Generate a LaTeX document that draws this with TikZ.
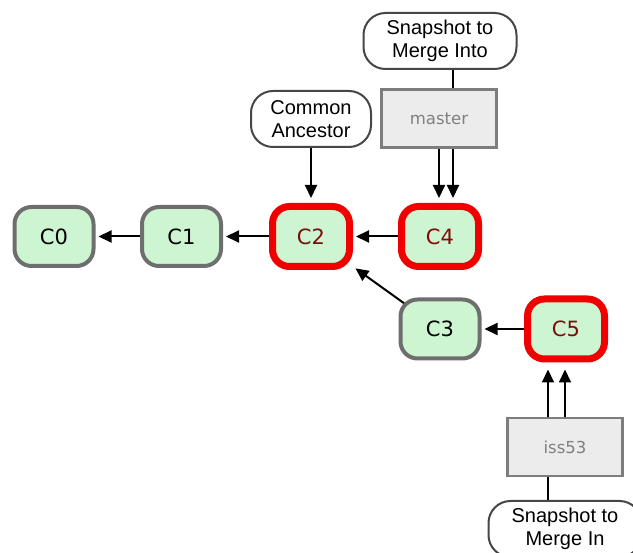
\documentclass[tikz,border=0pt]{standalone}
\usepackage{fontspec}
\setmainfont{Liberation Sans}
\newfontfamily\commitfont{DejaVu Sans}
\usetikzlibrary{arrows.meta,backgrounds}
\definecolor{cgreen}{RGB}{205,245,210}
\definecolor{cgrey}{RGB}{110,110,110}
\definecolor{cred}{RGB}{240,0,0}
\definecolor{cdred}{RGB}{130,10,10}
\definecolor{bgrey}{RGB}{236,236,236}
\definecolor{bline}{RGB}{125,125,125}
\definecolor{btext}{RGB}{128,128,128}
\definecolor{cline}{RGB}{70,70,70}
\begin{document}
\begin{tikzpicture}[x=1pt,y=-1pt,
 commit/.style={draw=cgrey,line width=4pt,fill=cgreen,rounded corners=17pt,minimum width=79pt,minimum height=59pt,inner sep=0pt,font=\commitfont\fontsize{21}{24}\selectfont},
 hot/.style={draw=cred,line width=7pt,text=cdred,minimum width=77pt,minimum height=60pt},
 branch/.style={draw=bline,line width=2.5pt,fill=bgrey,minimum width=115pt,minimum height=58pt,inner sep=0pt,font=\commitfont\fontsize{16.5}{19}\selectfont,text=btext},
 callout/.style={draw=cline,line width=2pt,fill=white,rounded corners=22pt,minimum height=56pt,align=center,font=\fontsize{20}{22.5}\selectfont,inner sep=0pt},
 arr/.style={line width=2pt,-{Triangle[length=13pt,width=12pt]}},
 link/.style={line width=2pt,draw=black}
]
\useasboundingbox (0,0) rectangle (633,553);
\clip (0,0) rectangle (633,553);
\node[commit] (c0) at (54,236.5) {C0};
\node[commit] (c1) at (181.5,236.5) {C1};
\node[commit,hot] (c2) at (311,236.5) {C2};
\node[commit,hot] (c4) at (440,236.5) {C4};
\node[commit] (c3) at (440,329) {C3};
\node[commit,hot] (c5) at (566,329) {C5};
\node[branch] (master) at (439,118.5) {master};
\node[branch] (iss) at (565,447) {iss53};
\node[callout,minimum width=153pt] (into) at (440,41) {Snapshot to\\Merge Into};
\node[callout,minimum width=120pt] (anc) at (311,119) {Common\\Ancestor};
\node[callout,minimum width=153pt] (in) at (565,529) {Snapshot to\\Merge In};
\begin{pgfonlayer}{background}
\draw[arr,shorten >=3pt] (c1) -- (c0);
\draw[arr,shorten >=3pt] (c2) -- (c1);
\draw[arr,shorten >=3pt] (c4) -- (c2);
\draw[arr,shorten >=3pt] (c5) -- (c3);
\draw[arr,shorten >=3pt,shorten <=-8pt] (c3) -- (c2);
\draw[arr,shorten >=5pt] (anc.south) -- (c2.north);
\draw[arr,shorten >=5pt] (master.south) -- (master.south |- c4.north);
\draw[arr,shorten >=5pt] ([xshift=14pt]master.south) -- ([xshift=14pt]master.south |- c4.north);
\draw[link] ([xshift=14pt]master.north) -- ([xshift=14pt]master.north |- into.south);
\draw[arr,shorten >=7pt] (iss.north) -- (iss.north |- c5.south);
\draw[arr,shorten >=7pt] ([xshift=-17pt]iss.north) -- ([xshift=-17pt]iss.north |- c5.south);
\draw[link] ([xshift=-17pt]iss.south) -- ([xshift=-17pt]iss.south |- in.north);
\end{pgfonlayer}
\end{tikzpicture}
\end{document}
